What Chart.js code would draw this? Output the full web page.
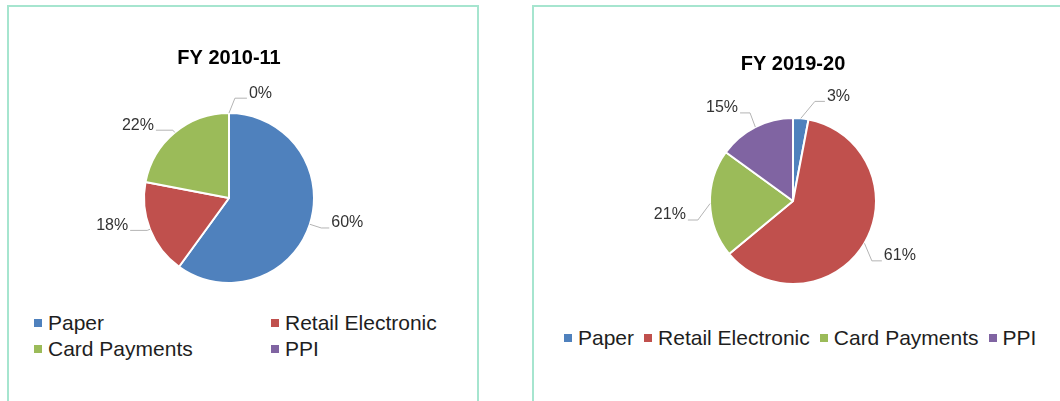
<!DOCTYPE html>
<html>
<head>
<meta charset="utf-8">
<script src="https://cdn.jsdelivr.net/npm/chart.js@4/dist/chart.umd.min.js"></script>
<style>
  html, body { margin:0; padding:0; background:#fff; }
  body { width:1060px; height:401px; position:relative; overflow:hidden; font-family:"Liberation Sans", Arial, sans-serif; }
  .panel { position:absolute; border:2px solid #a6e5cf; border-bottom:none; box-sizing:border-box; }
  canvas { position:absolute; }
  .legend { position:absolute; font-size:21px; line-height:26px; color:#1e1e1e; }
  .item { display:flex; align-items:center; white-space:nowrap; }
  .mk { width:8px; height:8px; display:inline-block; margin-right:6px; flex:none; }
  #legL { left:34px; top:310px; display:grid; grid-template-columns:237px auto; }
  #legR { left:564px; top:325px; display:flex; }
  #legR .item { margin-right:10px; }
</style>
</head>
<body>
<div class="panel" style="left:7px; top:5px; width:472px; height:420px;"></div>
<div class="panel" style="left:532px; top:5px; width:560px; height:420px;"></div>
<canvas id="cL" width="458" height="300" style="left:0; top:0;"></canvas>
<canvas id="cR" width="466" height="300" style="left:560px; top:0;"></canvas>
<div id="legL" class="legend"></div>
<div id="legR" class="legend"></div>
<script>
const categories = ["Paper", "Retail Electronic", "Card Payments", "PPI"];
const fy2010Values = [60, 18, 22, 0];
const fy2019Values = [3, 61, 21, 15];
const titles = ["FY 2010-11", "FY 2019-20"];
const colors = ["#4F81BD", "#C0504D", "#9BBB59", "#8064A2"];

// leader line layout per slice: [angle shift (deg), radial length, horizontal length]
const leaderL = [[0, 12, 8], [0, 3, 17], [0, 3, 17], [3.4, 15, 12]];
const leaderR = [[7, 19, 10], [6.6, 16, 10], [-9.5, 14, 10], [1, 15, 10]];

const leaderPlugin = {
  id: 'leaderLabels',
  afterDatasetsDraw(chart, args, opts) {
    const ctx = chart.ctx;
    const meta = chart.getDatasetMeta(0);
    const vals = chart.data.datasets[0].data;
    ctx.save();
    meta.data.forEach((arc, i) => {
      const cfg = opts.layout[i];
      const mid = (arc.startAngle + arc.endAngle) / 2;
      const r = arc.outerRadius;
      const ex = arc.x + r * Math.cos(mid), ey = arc.y + r * Math.sin(mid);
      const a2 = mid + cfg[0] * Math.PI / 180;
      const bx = arc.x + (r + cfg[1]) * Math.cos(a2), by = arc.y + (r + cfg[1]) * Math.sin(a2);
      const right = bx >= arc.x;
      const hx = right ? bx + cfg[2] : bx - cfg[2];
      ctx.strokeStyle = '#b4b4b4';
      ctx.lineWidth = 1;
      ctx.beginPath();
      ctx.moveTo(ex, ey);
      ctx.lineTo(bx, by);
      ctx.lineTo(hx, by);
      ctx.stroke();
      ctx.fillStyle = '#333';
      ctx.font = '16px "Liberation Sans", Arial, sans-serif';
      ctx.textBaseline = 'middle';
      ctx.textAlign = right ? 'left' : 'right';
      ctx.fillText(vals[i] + '%', right ? hx + 2 : hx - 2, by - 5);
    });
    ctx.restore();
  }
};

function makePie(id, values, title, layout, pad) {
  return new Chart(document.getElementById(id), {
    type: 'pie',
    data: {
      labels: categories,
      datasets: [{ data: values, backgroundColor: colors, borderColor: '#ffffff', borderWidth: 2 }]
    },
    options: {
      responsive: false,
      animation: false,
      layout: { padding: { top: 0, bottom: pad.bottom, left: 0, right: 0 } },
      plugins: {
        legend: { display: false },
        tooltip: { enabled: false },
        title: {
          display: true, text: title, color: '#000',
          font: { family: '"Liberation Sans", Arial, sans-serif', size: 20, weight: 'bold', lineHeight: 1.2 },
          padding: { top: pad.top, bottom: pad.titleBottom }
        },
        leaderLabels: { layout: layout }
      }
    },
    plugins: [leaderPlugin]
  });
}

makePie('cL', fy2010Values, titles[0], leaderL, { top: 46, titleBottom: 42, bottom: 16 });
makePie('cR', fy2019Values, titles[1], leaderR, { top: 52, titleBottom: 41, bottom: 15 });

function buildLegend(el) {
  categories.forEach((c, i) => {
    const it = document.createElement('div');
    it.className = 'item';
    const mk = document.createElement('span');
    mk.className = 'mk';
    mk.style.background = colors[i];
    const tx = document.createElement('span');
    tx.textContent = c;
    it.appendChild(mk);
    it.appendChild(tx);
    el.appendChild(it);
  });
}
buildLegend(document.getElementById('legL'));
buildLegend(document.getElementById('legR'));
</script>
</body>
</html>
